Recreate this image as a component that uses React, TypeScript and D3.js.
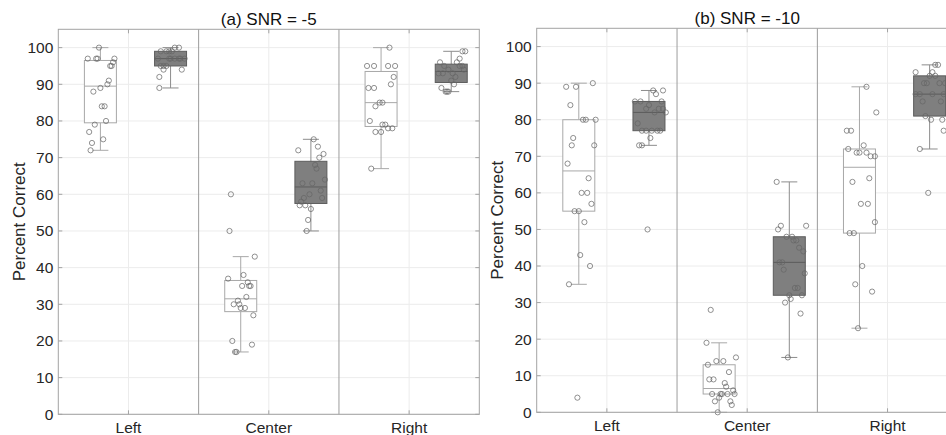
import * as d3 from "d3";

const categories = ["Left", "Center", "Right"];
const yTicks = [0, 10, 20, 30, 40, 50, 60, 70, 80, 90, 100];
const titles = ["(a) SNR = -5", "(b) SNR = -10"];

// [percent correct, jitter offset from box centre in category units]
type Pt = [number, number];

// SNR = -5, open boxes
const snr5LeftOpen: Pt[] = [
  [100, -0.01], [97, -0.09], [97, -0.03], [97, -0.02], [97, 0.1], [96, 0.09], [95, 0.07], [95, 0.08],
  [91, 0.06], [90, 0.05], [89, 0.0], [88, -0.05], [84, 0.01], [84, 0.03], [80, 0.04], [79, -0.04],
  [77, -0.08], [75, 0.02], [74, -0.06], [72, -0.07],
];
const snr5CenterOpen: Pt[] = [
  [60, -0.07], [50, -0.08], [43, 0.1], [38, 0.02], [37, -0.09], [36, 0.05], [35, 0.01], [35, 0.06],
  [35, 0.07], [32, 0.04], [31, -0.02], [30, -0.05], [30, -0.01], [29, 0.0], [29, 0.03], [27, 0.09],
  [20, -0.06], [19, 0.08], [17, -0.04], [17, -0.03],
];
const snr5RightOpen: Pt[] = [
  [100, 0.06], [95, -0.1], [95, -0.05], [95, 0.05], [95, 0.1], [92, 0.09], [90, 0.07], [89, -0.09],
  [89, -0.05], [85, -0.01], [85, 0.01], [84, -0.04], [80, -0.08], [79, 0.01], [79, 0.03], [78, 0.05],
  [78, 0.08], [77, -0.04], [77, 0.0], [67, -0.07],
];
// SNR = -5, filled boxes
const snr5LeftFilled: Pt[] = [
  [100, 0.03], [100, 0.06], [99, -0.07], [99, -0.03], [99, -0.01], [99, 0.01], [97, -0.09], [97, -0.01],
  [97, 0.0], [97, 0.03], [97, 0.06], [97, 0.07], [97, 0.1], [95, -0.07], [95, -0.05], [95, -0.03],
  [94, -0.05], [94, 0.08], [92, -0.08], [89, -0.08],
];
const snr5CenterFilled: Pt[] = [
  [75, 0.02], [73, 0.05], [72, -0.09], [71, 0.09], [70, 0.06], [68, 0.03], [67, 0.04], [64, 0.1],
  [63, -0.06], [63, 0.01], [61, 0.07], [60, -0.01], [59, -0.05], [59, 0.08], [58, -0.07], [57, -0.08],
  [57, -0.04], [56, 0.0], [53, -0.02], [50, -0.03],
];
const snr5RightFilled: Pt[] = [
  [99, 0.08], [99, 0.1], [97, 0.06], [96, -0.08], [96, 0.04], [95, -0.05], [95, 0.06], [95, 0.08],
  [94, -0.02], [94, 0.09], [93, -0.09], [93, -0.06], [93, 0.01], [92, 0.03], [91, 0.0], [90, 0.02],
  [89, -0.07], [88, -0.04], [88, -0.03], [88, -0.02],
];

// SNR = -10, open boxes
const snr10LeftOpen: Pt[] = [
  [90, 0.1], [89, -0.09], [89, -0.02], [84, -0.06], [80, 0.03], [80, 0.05], [80, 0.12], [75, -0.04],
  [73, -0.05], [73, 0.11], [68, -0.08], [64, 0.07], [60, 0.02], [60, 0.06], [57, 0.09], [55, -0.03],
  [55, 0.0], [52, 0.04], [43, 0.01], [40, 0.08], [35, -0.07], [4, -0.01],
];
const snr10CenterOpen: Pt[] = [
  [28, -0.06], [19, -0.09], [15, 0.12], [14, -0.02], [14, 0.03], [13, -0.08], [11, 0.07], [9, -0.07],
  [9, -0.04], [8, 0.04], [7, 0.05], [6, 0.1], [5, -0.05], [5, 0.01], [5, 0.02], [5, 0.06],
  [5, 0.11], [4, 0.0], [3, -0.03], [3, 0.08], [2, 0.09], [0, -0.01],
];
const snr10RightOpen: Pt[] = [
  [89, 0.05], [82, 0.12], [77, -0.09], [77, -0.06], [73, 0.03], [72, -0.08], [71, -0.02], [71, 0.0],
  [71, 0.05], [70, 0.08], [70, 0.11], [64, 0.07], [63, -0.05], [57, 0.01], [57, 0.06], [52, 0.11],
  [49, -0.07], [49, -0.04], [40, 0.02], [35, -0.03], [33, 0.09], [23, -0.01],
];
// SNR = -10, filled boxes
const snr10LeftFilled: Pt[] = [
  [88, 0.03], [88, 0.1], [87, 0.05], [85, -0.1], [85, -0.06], [85, 0.09], [84, 0.0], [83, -0.02],
  [83, 0.07], [83, 0.1], [82, 0.04], [82, 0.12], [79, -0.08], [77, -0.05], [77, -0.02], [77, 0.02],
  [77, 0.06], [77, 0.08], [75, 0.01], [73, -0.07], [73, -0.05], [50, -0.01],
];
const snr10CenterFilled: Pt[] = [
  [63, -0.09], [51, -0.06], [51, 0.12], [50, -0.08], [48, -0.02], [48, 0.02], [47, 0.03], [47, 0.05],
  [45, 0.07], [44, 0.1], [41, -0.07], [41, -0.05], [39, -0.04], [38, 0.11], [34, 0.04], [34, 0.06],
  [32, 0.0], [32, 0.09], [31, 0.01], [30, -0.03], [27, 0.08], [15, -0.01],
];
const snr10RightFilled: Pt[] = [
  [95, 0.04], [95, 0.06], [93, -0.1], [93, 0.02], [92, 0.0], [92, 0.04], [90, -0.04], [90, -0.02],
  [90, 0.07], [90, 0.11], [87, -0.1], [87, -0.07], [87, 0.02], [87, 0.1], [85, -0.05], [85, 0.08],
  [81, -0.03], [80, 0.01], [80, 0.09], [77, 0.1], [72, -0.07], [60, -0.01],
];

const panels = [
  {
    title: titles[0],
    open: [snr5LeftOpen, snr5CenterOpen, snr5RightOpen],
    filled: [snr5LeftFilled, snr5CenterFilled, snr5RightFilled],
    left: 58.3, right: 479.3, top: 29.3, bottom: 414.3, labelX: 19,
  },
  {
    title: titles[1],
    open: [snr10LeftOpen, snr10CenterOpen, snr10RightOpen],
    filled: [snr10LeftFilled, snr10CenterFilled, snr10RightFilled],
    left: 536.7, right: 957.7, top: 28.3, bottom: 412.3, labelX: 497,
  },
];

const OPEN_OFFSET = -0.2;
const FILLED_OFFSET = 0.3;
const BOX_W = 0.228;
const FONT = "'Liberation Sans', Arial, Helvetica, sans-serif";

// hinges as median of lower/upper halves, whiskers at 1.5 IQR
function boxStats(vals: number[]) {
  const s = vals.slice().sort(d3.ascending);
  const half = Math.floor(s.length / 2);
  const q1 = d3.median(s.slice(0, half))!;
  const q3 = d3.median(s.slice(s.length - half))!;
  const med = d3.median(s)!;
  const iqr = q3 - q1;
  const lo = d3.min(s.filter((v) => v >= q1 - 1.5 * iqr))!;
  const hi = d3.max(s.filter((v) => v <= q3 + 1.5 * iqr))!;
  return { q1, q3, med, lo, hi };
}

function Box({ pts, cx, x, y, filled }) {
  const st = boxStats(pts.map((d) => d[0]));
  const half = (x(BOX_W) - x(0)) / 2;
  const cap = half / 2;
  const edge = filled ? "#5c5c5c" : "#a8a8a8";
  const whisk = filled ? "#8c8c8c" : "#a8a8a8";
  const px = x(cx);
  return (
    <g>
      <line x1={px} x2={px} y1={y(st.q3)} y2={y(st.hi)} stroke={whisk} />
      <line x1={px} x2={px} y1={y(st.q1)} y2={y(st.lo)} stroke={whisk} />
      <line x1={px - cap} x2={px + cap} y1={y(st.hi)} y2={y(st.hi)} stroke={whisk} />
      <line x1={px - cap} x2={px + cap} y1={y(st.lo)} y2={y(st.lo)} stroke={whisk} />
      <rect
        x={px - half}
        y={y(st.q3)}
        width={half * 2}
        height={y(st.q1) - y(st.q3)}
        fill={filled ? "#7f7f7f" : "#ffffff"}
        stroke={edge}
      />
      <line x1={px - half} x2={px + half} y1={y(st.med)} y2={y(st.med)} stroke={edge} />
    </g>
  );
}

function Panel({ p }) {
  const x = d3.scaleLinear().domain([0.5, 3.5]).range([p.left, p.right]);
  const y = d3.scaleLinear().domain([0, 105]).range([p.bottom, p.top]);
  const axis = "#a3a3a3";
  const cx = (p.left + p.right) / 2;
  const cy = (p.top + p.bottom) / 2;

  return (
    <g fontFamily={FONT}>
      <rect x={p.left} y={p.top} width={p.right - p.left} height={p.bottom - p.top} fill="#fff" />
      {yTicks.map((t) => (
        <line key={t} x1={p.left} x2={p.right} y1={y(t)} y2={y(t)} stroke="#ececec" />
      ))}
      {categories.map((c, i) => (
        <line key={c} x1={x(i + 1)} x2={x(i + 1)} y1={p.top} y2={p.bottom} stroke="#ececec" />
      ))}
      {[1.5, 2.5].map((s) => (
        <line key={s} x1={x(s)} x2={x(s)} y1={p.top} y2={p.bottom} stroke="#9c9c9c" />
      ))}

      {categories.map((c, i) => (
        <g key={c}>
          <Box pts={p.open[i]} cx={i + 1 + OPEN_OFFSET} x={x} y={y} filled={false} />
          <Box pts={p.filled[i]} cx={i + 1 + FILLED_OFFSET} x={x} y={y} filled={true} />
        </g>
      ))}
      {categories.map((c, i) =>
        [
          [p.open[i], OPEN_OFFSET],
          [p.filled[i], FILLED_OFFSET],
        ].map(([pts, off]: any, k) =>
          pts.map((d: Pt, j: number) => (
            <circle
              key={`${c}-${k}-${j}`}
              cx={x(i + 1 + off + d[1])}
              cy={y(d[0])}
              r={2.6}
              fill="none"
              stroke="#666"
              strokeOpacity={0.8}
              strokeWidth={0.9}
            />
          ))
        )
      )}

      <rect
        x={p.left}
        y={p.top}
        width={p.right - p.left}
        height={p.bottom - p.top}
        fill="none"
        stroke={axis}
      />
      {yTicks.map((t) => (
        <g key={t}>
          <line x1={p.left} x2={p.left + 4} y1={y(t)} y2={y(t)} stroke={axis} />
          <line x1={p.right} x2={p.right - 4} y1={y(t)} y2={y(t)} stroke={axis} />
          <text
            x={p.left - 5}
            y={y(t)}
            dy="0.35em"
            textAnchor="end"
            fontSize={15.5}
            fill="#262626"
          >
            {t}
          </text>
        </g>
      ))}
      {categories.map((c, i) => (
        <g key={c}>
          <line x1={x(i + 1)} x2={x(i + 1)} y1={p.bottom} y2={p.bottom - 4} stroke={axis} />
          <line x1={x(i + 1)} x2={x(i + 1)} y1={p.top} y2={p.top + 4} stroke={axis} />
          <text x={x(i + 1)} y={p.bottom + 19} textAnchor="middle" fontSize={15.5} fill="#262626">
            {c}
          </text>
        </g>
      ))}
      <text x={cx} y={p.top - 4} textAnchor="middle" fontSize={17} fill="#111">
        {p.title}
      </text>
      <text
        transform={`translate(${p.labelX + 6},${cy}) rotate(-90)`}
        textAnchor="middle"
        fontSize={17}
        fill="#262626"
      >
        Percent Correct
      </text>
    </g>
  );
}

export default function App() {
  return (
    <svg
      width={946}
      height={435}
      style={{ position: "fixed", left: 0, top: 0, background: "#fff" }}
    >
      {panels.map((p) => (
        <Panel key={p.title} p={p} />
      ))}
    </svg>
  );
}
